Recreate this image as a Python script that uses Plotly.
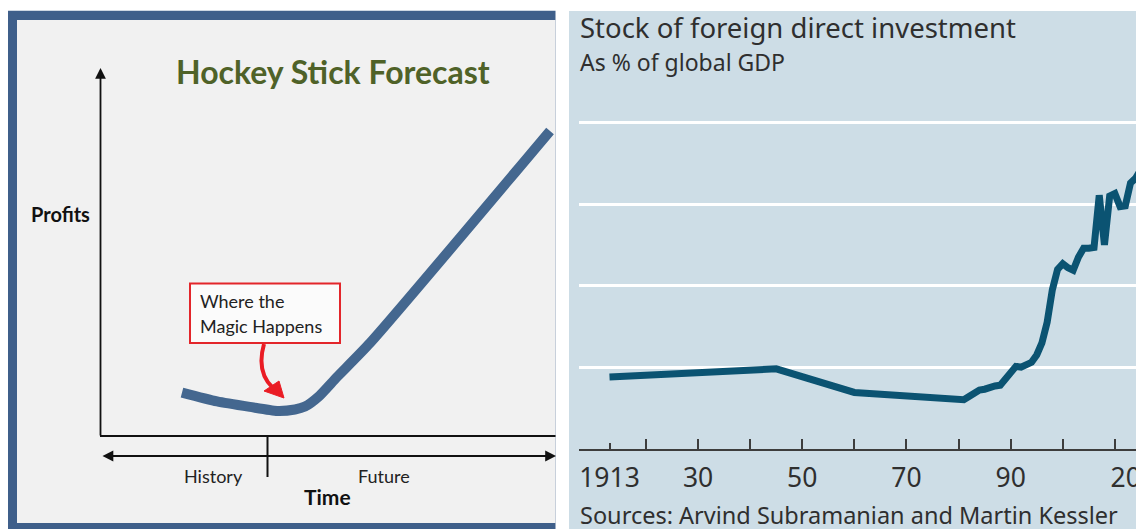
import plotly.graph_objects as go

# page body adds an 8px margin, so the figure is sized to fill the rest of the window
OFF = 8
W, H = 1144 - OFF, 529 - OFF

# ---------------- data ----------------
# Left panel: schematic "hockey stick" curve (arbitrary Time / Profits units)
hs_time = [1.80, 2.57, 3.29, 3.89, 4.28, 4.50, 4.79, 5.20, 5.93, 9.88]
hs_profit = [1.18, 0.94, 0.79, 0.68, 0.72, 0.80, 1.06, 1.60, 2.53, 8.29]

# Right panel: stock of FDI, % of global GDP
fdi_years = [1913, 1945, 1960, 1981, 1982, 1983, 1984, 1985, 1986, 1987, 1988,
             1989, 1990, 1991, 1992, 1993, 1994, 1995, 1996, 1997, 1998, 1999,
             2000, 2001, 2002, 2003, 2004, 2005, 2006, 2007, 2008, 2009, 2010,
             2011, 2012, 2013, 2014, 2015, 2016]
fdi_pct = [8.8, 9.8, 6.9, 6.0, 6.4, 6.9, 7.2, 7.3, 7.6, 7.7, 7.8,
           8.6, 9.4, 10.1, 10.0, 10.2, 10.6, 11.5, 13.0, 15.5, 19.5, 22.0,
           22.7, 22.2, 21.9, 23.5, 24.6, 24.6, 24.7, 31.1, 25.0, 31.0, 31.3,
           29.7, 29.8, 32.6, 33.2, 34.3, 35.0]

decade_ticks = [1920, 1930, 1940, 1950, 1960, 1970, 1980, 1990, 2000, 2010]
decade_text = ["", "30", "", "50", "", "70", "", "90", "", ""]
end_ticks = [1913, 2015]
end_text = ["1913", "2015"]
grid_vals = [10, 20, 30, 40]

# ---------------- helpers (window pixel -> paper) ----------------
def px(x):
    return (x - OFF) / W

def py(y):
    return 1 - (y - OFF) / H

fig = go.Figure()

# hockey stick curve
fig.add_trace(go.Scatter(
    x=hs_time, y=hs_profit, mode="lines",
    line=dict(color="#44678f", width=10, shape="spline", smoothing=0.6),
    xaxis="x", yaxis="y", hoverinfo="skip", showlegend=False))

# FDI line
fig.add_trace(go.Scatter(
    x=fdi_years, y=fdi_pct, mode="lines",
    line=dict(color="#0b5372", width=7),
    xaxis="x2", yaxis="y2", hoverinfo="skip", showlegend=False))

# invisible trace so the end-year axis (x3) is drawn
fig.add_trace(go.Scatter(
    x=end_ticks, y=[None, None], mode="lines",
    xaxis="x3", yaxis="y2", hoverinfo="skip", showlegend=False))

shapes = []
# left panel frame + background
shapes.append(dict(type="rect", xref="paper", yref="paper", layer="below",
                   x0=px(7.5), x1=px(555.5), y0=py(540), y1=py(10.7),
                   fillcolor="#3f5f8a", line=dict(width=0)))
shapes.append(dict(type="rect", xref="paper", yref="paper", layer="below",
                   x0=px(17), x1=px(555.5), y0=py(523), y1=py(20),
                   fillcolor="#f1f1f1", line=dict(width=0)))
# right panel background
shapes.append(dict(type="rect", xref="paper", yref="paper", layer="below",
                   x0=px(569), x1=px(1150), y0=py(540), y1=py(11),
                   fillcolor="#cddde6", line=dict(width=0)))
# left: x axis line
shapes.append(dict(type="line", xref="paper", yref="paper",
                   x0=px(100), x1=px(555.5), y0=py(436), y1=py(436),
                   line=dict(color="#111111", width=2)))
# left: history/future divider
shapes.append(dict(type="line", xref="paper", yref="paper",
                   x0=px(267.5), x1=px(267.5), y0=py(437), y1=py(477),
                   line=dict(color="#111111", width=2)))
# red callout box
shapes.append(dict(type="rect", xref="paper", yref="paper",
                   x0=px(190), x1=px(340), y0=py(343), y1=py(283.5),
                   fillcolor="#fbfbfb", line=dict(color="#e3262b", width=2)))
# curved red arrow shaft
shaft = "M {} {} Q {} {} {} {}".format(px(264), py(344), px(256), py(372), px(273), py(388))
shapes.append(dict(type="path", xref="paper", yref="paper", path=shaft,
                   line=dict(color="#ea1c24", width=4)))
head = "M {} {} L {} {} L {} {} Z".format(px(264), py(391), px(279), py(381), px(284), py(398))
shapes.append(dict(type="path", xref="paper", yref="paper", path=head,
                   fillcolor="#ea1c24", line=dict(color="#ea1c24", width=1)))

annotations = []
LF = "Lato"
# y axis arrow (Profits)
annotations.append(dict(xref="paper", yref="paper", x=px(100.5), y=py(68),
                        ax=0, ay=369, showarrow=True, arrowhead=2, arrowsize=1.2,
                        arrowwidth=1.8, arrowcolor="#111111", text=""))
# time double arrow
annotations.append(dict(xref="paper", yref="paper", x=px(556), y=py(456),
                        ax=-455, ay=0, showarrow=True, arrowhead=2, startarrowhead=2,
                        arrowside="end+start", arrowsize=1.2, startarrowsize=1.2,
                        arrowwidth=1.8, arrowcolor="#111111", text=""))

def txt(x, y, s, size, color, family, xanchor="center", bold=False):
    if bold:
        s = "<b>" + s + "</b>"
    annotations.append(dict(xref="paper", yref="paper", x=px(x), y=py(y), text=s,
                            showarrow=False, xanchor=xanchor, yanchor="middle",
                            font=dict(size=size, color=color, family=family)))

txt(332.5, 72, "Hockey Stick Forecast", 32, "#4f6228", LF, bold=True)
txt(60, 214, "Profits", 20, "#111111", LF, bold=True)
txt(213, 476, "History", 18, "#222222", LF)
txt(384, 476, "Future", 18, "#222222", LF)
txt(327, 496, "Time", 21, "#111111", LF, bold=True)
txt(198, 301, "Where the", 18, "#222222", LF, xanchor="left")
txt(198, 326, "Magic Happens", 18, "#222222", LF, xanchor="left")

EF = "Noto Sans"
txt(578, 28, "Stock of foreign direct investment", 27.5, "#2f2f2f", EF, xanchor="left")
txt(578, 62, "As % of global GDP", 23, "#2f2f2f", EF, xanchor="left")
txt(578, 515, "Sources: Arvind Subramanian and Martin Kessler", 23.5, "#2f2f2f", EF, xanchor="left")

# axes geometry
x2_left_year = 1913 - (609.5 - 579) / 5.21
x2_right_year = 1913 + (1144 - 609.5) / 5.21
y_top_val = 45
y2_top_px = 448.7 - y_top_val * 8.15
tickfont = dict(family=EF, size=26.5, color="#2f2f2f")

fig.update_layout(
    width=W, height=H,
    margin=dict(l=0, r=0, t=0, b=0, autoexpand=False),
    paper_bgcolor="white",
    plot_bgcolor="rgba(0,0,0,0)",
    shapes=shapes,
    annotations=annotations,
    xaxis=dict(domain=[px(100), px(555.5)], range=[0, 10], visible=False,
               automargin=False),
    yaxis=dict(domain=[py(436), py(68)], range=[0, 10], visible=False,
               automargin=False),
    xaxis2=dict(domain=[px(579), 1.0], range=[x2_left_year, x2_right_year],
                anchor="y2", showgrid=False, zeroline=False, automargin=False,
                showline=True, linecolor="#3d3d3d", linewidth=1.6,
                tickmode="array", tickvals=decade_ticks, ticktext=decade_text,
                ticks="inside", ticklen=10, tickwidth=1.6, tickcolor="#3d3d3d",
                tickfont=tickfont, ticklabelstandoff=5),
    xaxis3=dict(overlaying="x2", anchor="y2", range=[x2_left_year, x2_right_year],
                domain=[px(579), 1.0], showgrid=False, zeroline=False,
                automargin=False,
                showline=True, linecolor="#3d3d3d", linewidth=1.6,
                tickmode="array", tickvals=end_ticks, ticktext=end_text,
                ticks="inside", ticklen=6, tickwidth=1.6, tickcolor="#3d3d3d",
                tickfont=tickfont, ticklabelstandoff=5, side="bottom",
                ticklabeloverflow="allow"),
    yaxis2=dict(domain=[py(448.7), py(y2_top_px)], range=[0, y_top_val],
                anchor="x2", showgrid=True, gridcolor="white", gridwidth=3,
                automargin=False,
                tickmode="array", tickvals=grid_vals, showticklabels=False,
                zeroline=False, showline=False, ticks=""),
)

fig.write_html("out.html")
